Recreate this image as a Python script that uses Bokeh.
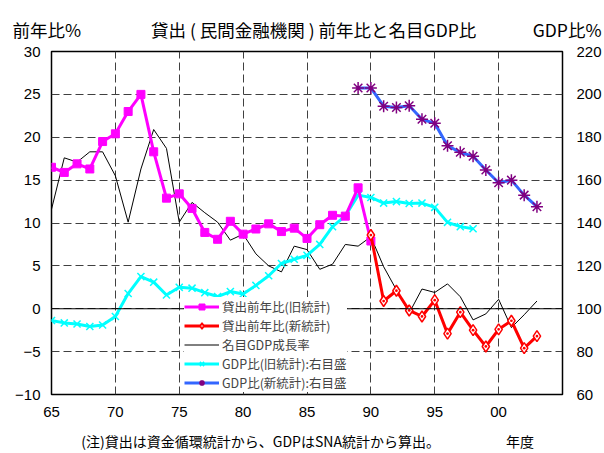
from bokeh.plotting import figure
from bokeh.models import (Range1d, LinearAxis, FixedTicker, Span,
                          Legend, LegendItem, Title)
from bokeh.embed import file_html
from bokeh.resources import INLINE

# ---------------- data ----------------
years_old = list(range(1965, 1991))
loan_old = [16.5, 15.9, 16.9, 16.3, 19.5, 20.4, 23.0, 25.0, 18.3, 12.9,
            13.4, 11.7, 8.9, 8.1, 10.2, 8.7, 9.3, 9.9, 9.0, 9.4,
            8.2, 9.8, 10.9, 10.8, 14.1, 7.9]

years_new = list(range(1990, 2004))
loan_new = [8.6, 0.9, 2.1, -0.2, -0.9, 1.0, -2.9, -0.4, -2.5, -4.4,
            -2.4, -1.4, -4.6, -3.2]

years_gdp = list(range(1965, 2004))
gdp_growth = [11.6, 17.6, 17.1, 18.3, 18.3, 15.5, 10.1, 16.3, 20.9, 18.7,
              10.1, 12.4, 11.2, 10.1, 8.0, 8.7, 6.4, 5.0, 4.3, 7.3,
              6.9, 4.6, 5.2, 7.5, 7.3, 8.4, 4.9, 2.2, -0.5, 2.3,
              1.9, 2.9, 1.4, -1.3, -0.6, 1.1, -2.2, -0.7, 0.9]

years_ratio_old = list(range(1965, 1999))
ratio_old = [94.5, 93.4, 92.9, 91.7, 92.4, 96.4, 107.1, 115.0, 112.4, 106.4,
             110.0, 109.6, 107.5, 105.7, 108.0, 106.9, 110.9, 115.4, 121.1, 123.1,
             124.9, 130.0, 138.3, 143.3, 153.0, 151.9, 149.3, 150.0, 149.1, 149.3,
             147.3, 140.3, 138.3, 137.3]

years_ratio_new = list(range(1989, 2004))
ratio_new = [203.0, 203.0, 194.5, 193.9, 194.7, 188.4, 186.5, 176.0, 173.0, 171.1,
             164.7, 158.8, 160.0, 153.0, 147.6]

x_ticks = [1965, 1970, 1975, 1980, 1985, 1990, 1995, 2000]
x_tick_labels = ["65", "70", "75", "80", "85", "90", "95", "00"]
left_ticks = [-10, -5, 0, 5, 10, 15, 20, 25, 30]
right_ticks = [60, 80, 100, 120, 140, 160, 180, 200, 220]

legend_labels = ["貸出前年比(旧統計)", "貸出前年比(新統計)", "名目GDP成長率",
                 "GDP比(旧統計):右目盛", "GDP比(新統計):右目盛"]

title_text = "貸出 ( 民間金融機関 ) 前年比と名目GDP比"
left_unit = "前年比%"
right_unit = "GDP比%"
note_text = "(注)貸出は資金循環統計から、GDPはSNA統計から算出。"
x_unit = "年度"

JP = "Noto Sans CJK JP"
NUM = "Liberation Sans"
IDS = "\u3000"  # ideographic space used as a fixed-width gap

# ---------------- figure ----------------
p = figure(width=604, height=453, output_backend="svg", toolbar_location=None,
           x_range=Range1d(1965, 2005), y_range=Range1d(-10, 30),
           min_border_left=51, min_border_right=41, min_border_top=51,
           min_border_bottom=59)

top_line = left_unit + IDS * 4 + title_text + IDS * 3 + " " + right_unit
p.title = Title(text=top_line, align="center", offset=0,
                text_font=JP, text_font_size="17.5px", text_font_style="normal",
                text_color="black", standoff=19)
p.extra_y_ranges = {"right": Range1d(60, 220)}

p.outline_line_color = "black"
p.outline_line_width = 1.5
p.outline_line_alpha = 1.0

# axes
p.xaxis.ticker = FixedTicker(ticks=x_ticks)
p.xaxis.major_label_overrides = {t: l for t, l in zip(x_ticks, x_tick_labels)}
p.yaxis.ticker = FixedTicker(ticks=left_ticks)

right_axis = LinearAxis(y_range_name="right", ticker=FixedTicker(ticks=right_ticks))
p.add_layout(right_axis, "right")

for ax in [p.xaxis[0], p.yaxis[0], right_axis]:
    ax.axis_line_color = None
    ax.major_tick_in = 0
    ax.major_tick_out = 0
    ax.minor_tick_in = 0
    ax.minor_tick_out = 0
    ax.major_label_text_font = NUM
    ax.major_label_text_font_size = "15px"
    ax.major_label_text_color = "black"
p.xaxis[0].major_label_standoff = 12
p.yaxis[0].major_label_standoff = 11
right_axis.major_label_standoff = 14

# note and x unit under the x axis
p.xaxis[0].axis_label = IDS + note_text + IDS * 5 + "     " + x_unit
p.xaxis[0].axis_label_text_font = JP
p.xaxis[0].axis_label_text_font_size = "14px"
p.xaxis[0].axis_label_text_font_style = "normal"
p.xaxis[0].axis_label_text_color = "black"
p.xaxis[0].axis_label_standoff = 11

# grid
p.xgrid.ticker = FixedTicker(ticks=x_ticks)
p.ygrid.ticker = FixedTicker(ticks=left_ticks)
for g in [p.xgrid[0], p.ygrid[0]]:
    g.grid_line_color = "#404040"
    g.grid_line_dash = "8 4"
    g.grid_line_width = 1
    g.grid_line_alpha = 1.0

p.add_layout(Span(location=0, dimension="width", line_color="black", line_width=1))

# ---------------- series ----------------
r_black = p.line(years_gdp, gdp_growth, line_color="black", line_width=1)

r_cyan_l = p.line(years_ratio_old, ratio_old, line_color="#00FFFF", line_width=3,
                  y_range_name="right")
r_cyan_m = p.scatter(years_ratio_old, ratio_old, marker="x", size=10,
                     line_color="#00FFFF", line_width=1.5, y_range_name="right")

r_mag_l = p.line(years_old, loan_old, line_color="#FF00FF", line_width=3)
r_mag_m = p.scatter(years_old, loan_old, marker="square", size=8,
                    fill_color="#FF00FF", line_color="#FF00FF")

r_red_l = p.line(years_new, loan_new, line_color="#FF0000", line_width=3)
r_red_m = p.scatter(years_new, loan_new, marker="diamond_dot", size=11,
                    fill_color="white", line_color="#FF0000", line_width=1.5)

r_blue_l = p.line(years_ratio_new, ratio_new, line_color="#3366FF", line_width=3,
                  y_range_name="right")
r_blue_m = p.scatter(years_ratio_new, ratio_new, marker="asterisk", size=12,
                     line_color="#800080", line_width=1.5, y_range_name="right")

legend = Legend(items=[
    LegendItem(label=legend_labels[0], renderers=[r_mag_l, r_mag_m]),
    LegendItem(label=legend_labels[1], renderers=[r_red_l, r_red_m]),
    LegendItem(label=legend_labels[2], renderers=[r_black]),
    LegendItem(label=legend_labels[3], renderers=[r_cyan_l, r_cyan_m]),
    LegendItem(label=legend_labels[4], renderers=[r_blue_l, r_blue_m]),
], location=(133, 2))
legend.border_line_color = None
legend.background_fill_color = "white"
legend.background_fill_alpha = 1.0
legend.label_text_font = JP
legend.label_text_font_size = "12.5px"
legend.glyph_width = 35
legend.glyph_height = 15
legend.label_height = 15
legend.label_standoff = 3
legend.spacing = 0
legend.padding = 5
legend.margin = 0
p.add_layout(legend)

open("out.html", "w").write(file_html(p, INLINE))
